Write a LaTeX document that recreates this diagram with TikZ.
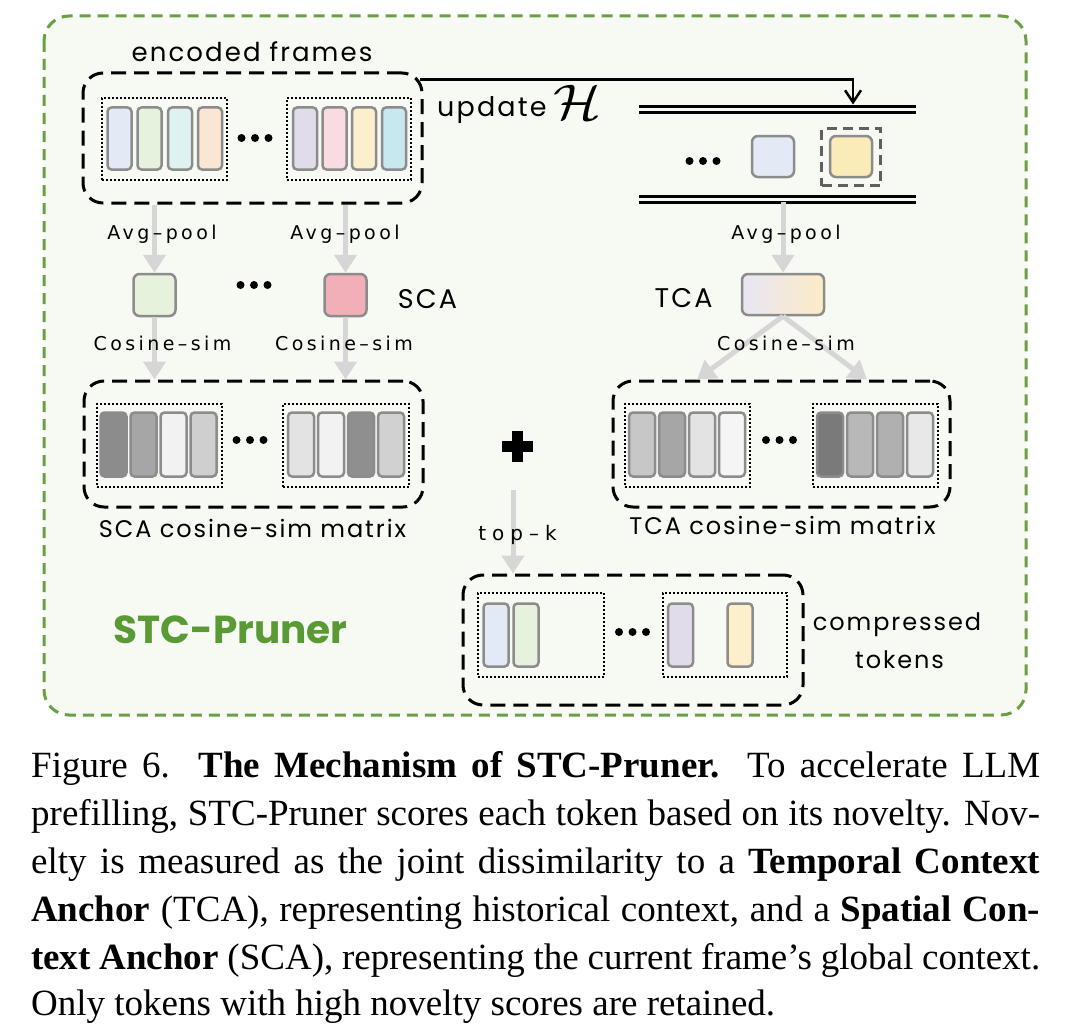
\documentclass[tikz,border=0pt]{standalone}
\usepackage{fontspec}
\usepackage{graphicx}
\usetikzlibrary{arrows.meta}
\newfontfamily\comic{Poppins}
\newfontfamily\comicsp[LetterSpace=8]{Poppins}
\newfontfamily\lsans[LetterSpace=18]{DejaVu Sans}
\newfontfamily\lsanswide[LetterSpace=30]{DejaVu Sans}
\newfontfamily\capf{Liberation Serif}
\definecolor{bggreen}{HTML}{F7FAF3}
\definecolor{framegreen}{HTML}{6A9F45}
\definecolor{txtgreen}{HTML}{5A9A35}
\definecolor{arrgray}{HTML}{D6D6D6}
\definecolor{tokborder}{HTML}{8C8C8C}
\definecolor{dgray}{HTML}{606060}
\definecolor{cblue}{HTML}{E3EAF6}
\definecolor{cgreen}{HTML}{E6F2DE}
\definecolor{ccyan}{HTML}{DDF2F1}
\definecolor{cpeach}{HTML}{FBE6D3}
\definecolor{clav}{HTML}{E0DCE9}
\definecolor{cpink}{HTML}{F8DCE2}
\definecolor{cyell}{HTML}{FBEFCC}
\definecolor{ccyan2}{HTML}{C7E8EE}
\definecolor{sqgreen}{HTML}{E6F2DC}
\definecolor{sqpink}{HTML}{F2AFB8}
\definecolor{hblue}{HTML}{E3EAF6}
\definecolor{hyell}{HTML}{FAEBB9}
\definecolor{tcaL}{HTML}{E8E6F6}
\definecolor{tcaR}{HTML}{FCEBC6}
\tikzset{
  tok/.style={draw=tokborder, line width=2.5pt, rounded corners=4pt, inner sep=0pt, minimum width=24pt, minimum height=62pt},
  sq/.style={draw=tokborder, line width=2.5pt, rounded corners=6pt, inner sep=0pt, minimum width=42pt, minimum height=42pt},
  dashbox/.style={draw=black, line width=3pt, dash pattern=on 15pt off 8pt, rounded corners=20pt, inner sep=0pt},
  dotbox/.style={draw=black, line width=2pt, dash pattern=on 2pt off 2pt, inner sep=0pt},
  garrow/.style={draw=arrgray, line width=5pt, -{Triangle[length=18pt,width=22pt]}},
  barrow/.style={draw=black, line width=2.5pt, -{Straight Barb[length=12pt,width=16pt]}},
  lab/.style={font=\lsans\fontsize{19}{19}\selectfont, inner sep=0pt, anchor=base},
  comictxt/.style={font=\comicsp\fontsize{27}{27}\selectfont, inner sep=0pt, anchor=base},
  capline/.style={font=\capf\fontsize{37}{37}\selectfont, inner sep=0pt, anchor=base west},
}
\newcommand\tridots[2]{\fill (#1-13.5,#2) circle (4pt) (#1,#2) circle (4pt) (#1+13.5,#2) circle (4pt);}
\begin{document}
\begin{tikzpicture}[x=1pt,y=-1pt]
\useasboundingbox[fill=white] (0,0) rectangle (1080,1025);
% frame
\draw[framegreen, line width=3pt, dash pattern=on 11pt off 7pt, rounded corners=25pt, fill=bggreen] (44,16) rectangle (1026,715);

% encoded frames box
\node[dashbox, minimum width=339pt, minimum height=130pt] (enc) at (252.5,138) {};
\node[dotbox, minimum width=125pt, minimum height=82pt] (encL) at (164.5,139) {};
\node[dotbox, minimum width=124pt, minimum height=82pt] (encR) at (349,139) {};
\node[tok, fill=cblue] (e1) at (119.5,138.5) {};
\node[tok, fill=cgreen] (e2) at (149.5,138.5) {};
\node[tok, fill=ccyan] (e3) at (180,138.5) {};
\node[tok, fill=cpeach] (e4) at (210,138.5) {};
\node[tok, fill=clav] (e5) at (305,138.5) {};
\node[tok, fill=cpink] (e6) at (334.5,138.5) {};
\node[tok, fill=cyell] (e7) at (364,138.5) {};
\node[tok, fill=ccyan2] (e8) at (394,138.5) {};
\tridots{255}{138}

% history
\draw[line width=3pt] (639,107) -- (916,107);
\draw[line width=3pt] (639,113) -- (916,113);
\draw[line width=3pt] (639,196) -- (916,196);
\draw[line width=3pt] (639,202) -- (916,202);
\node[inner sep=0pt, minimum width=277pt, minimum height=95pt] (hist) at (777.5,154.5) {};
\node[sq, fill=hblue, minimum width=42pt, minimum height=41pt] (hb) at (773,156.5) {};
\node[sq, fill=hyell, minimum width=42pt, minimum height=41pt] (hy) at (851,156.5) {};
\node[draw=dgray, line width=3pt, dash pattern=on 10pt off 6pt, inner sep=0pt, minimum width=59pt, minimum height=57pt] (hd) at (851,157) {};
\tridots{703}{161}

% anchors
\node[sq, fill=sqgreen] (sqA) at (154.5,295) {};
\node[sq, fill=sqpink] (sqB) at (345.5,295) {};
\tridots{254}{285}
\node[sq, minimum width=82pt, minimum height=41pt, left color=tcaL, right color=tcaR] (tca) at (783,294.5) {};

% SCA matrix
\node[dashbox, minimum width=339pt, minimum height=126pt] (smat) at (253.5,444) {};
\node[dotbox, minimum width=125pt, minimum height=83pt] (smL) at (159.5,445.5) {};
\node[dotbox, minimum width=126pt, minimum height=83pt] (smR) at (346,445.5) {};
\node[tok, fill=black!45, minimum width=26pt, minimum height=64pt] (s1) at (113.5,444.5) {};
\node[tok, fill=black!35, minimum width=26pt, minimum height=64pt] (s2) at (143.5,444.5) {};
\node[tok, fill=black!5, minimum width=26pt, minimum height=64pt] (s3) at (173.5,444.5) {};
\node[tok, fill=black!19, minimum width=26pt, minimum height=64pt] (s4) at (203.5,444.5) {};
\node[tok, fill=black!11, minimum width=26pt, minimum height=64pt] (s5) at (301,444.5) {};
\node[tok, fill=black!5, minimum width=26pt, minimum height=64pt] (s6) at (331,444.5) {};
\node[tok, fill=black!44, minimum width=26pt, minimum height=64pt] (s7) at (361,444.5) {};
\node[tok, fill=black!18, minimum width=26pt, minimum height=64pt] (s8) at (391,444.5) {};
\tridots{250}{440}

% TCA matrix
\node[dashbox, minimum width=337pt, minimum height=126pt] (tmat) at (781.5,444) {};
\node[dotbox, minimum width=125pt, minimum height=83pt] (tmL) at (687.5,445.5) {};
\node[dotbox, minimum width=125pt, minimum height=83pt] (tmR) at (875.5,445.5) {};
\node[tok, fill=black!22, minimum width=26pt, minimum height=64pt] (t1) at (642,444.5) {};
\node[tok, fill=black!35, minimum width=26pt, minimum height=64pt] (t2) at (672,444.5) {};
\node[tok, fill=black!11, minimum width=26pt, minimum height=64pt] (t3) at (702,444.5) {};
\node[tok, fill=black!4, minimum width=26pt, minimum height=64pt] (t4) at (732,444.5) {};
\node[tok, fill=black!52, minimum width=26pt, minimum height=64pt] (t5) at (830,444.5) {};
\node[tok, fill=black!28, minimum width=26pt, minimum height=64pt] (t6) at (860,444.5) {};
\node[tok, fill=black!31, minimum width=26pt, minimum height=64pt] (t7) at (890,444.5) {};
\node[tok, fill=black!9, minimum width=26pt, minimum height=64pt] (t8) at (920,444.5) {};
\tridots{779.5}{440}

% plus
\node[inner sep=0pt, minimum size=31pt] (plus) at (517,446) {};
\fill (501.5,440.5) rectangle (532.5,451.5);
\fill (511.5,430.5) rectangle (522.5,461.5);

% compressed tokens
\node[dashbox, minimum width=340pt, minimum height=130pt] (comp) at (633,640) {};
\node[dotbox, minimum width=126pt, minimum height=84pt] (cL) at (541,635) {};
\node[dotbox, minimum width=124pt, minimum height=84pt] (cR) at (725,635) {};
\node[tok, fill=cblue, minimum width=25pt, minimum height=63pt] (k1) at (496,635) {};
\node[tok, fill=cgreen, minimum width=25pt, minimum height=63pt] (k2) at (526,635) {};
\node[tok, fill=clav, minimum width=25pt, minimum height=63pt] (k3) at (680.5,635) {};
\node[tok, fill=cyell, minimum width=25pt, minimum height=63pt] (k4) at (740,635) {};
\tridots{632.5}{632}

% gray arrows
\draw[garrow] (enc.south -| sqA) -- (sqA.north);
\draw[garrow] (enc.south -| sqB) -- (sqB.north);
\draw[garrow] (hist.south -| tca) -- (tca.north);
\draw[garrow] (sqA.south) -- (sqA.south |- smat.north);
\draw[garrow] (sqB.south) -- (sqB.south |- smat.north);
\draw[garrow] (tca.south) -- ([xshift=-84.5pt]tmat.north);
\draw[garrow] (tca.south) -- ([xshift=85.5pt]tmat.north);
\coordinate (tk0) at (513,490);
\draw[garrow] (tk0) -- (tk0 |- comp.north);

% black arrow
\coordinate (hin) at (853,104.5);
\draw[barrow] ([xshift=-4pt,yshift=-8pt]enc.north east) -| (hin);

% labels
\node[comictxt, font=\comicsp\fontsize{26}{26}\selectfont] (lenc) at (252,62) {encoded frames};
\node[comictxt, anchor=base west] (lupd) at (437,117) {update};
\node[inner sep=0pt, anchor=base west] (lH) at (553,119) {\scalebox{5.6}[5]{$\mathcal{H}$}};
\node[lab] (ap1) at (162,239) {Avg–pool};
\node[lab] (ap2) at (345,239) {Avg–pool};
\node[lab] (ap3) at (786,239) {Avg–pool};
\node[lab] (cs1) at (162.5,350) {Cosine–sim};
\node[lab] (cs2) at (344,350) {Cosine–sim};
\node[lab] (cs3) at (786,350) {Cosine–sim};
\node[comictxt] (lsca) at (427.5,308) {SCA};
\node[comictxt] (ltca) at (683.5,307) {TCA};
\node[comictxt, font=\comicsp\fontsize{24}{24}\selectfont] (lsm) at (252.5,537) {SCA cosine-sim matrix};
\node[comictxt, font=\comicsp\fontsize{24}{24}\selectfont] (ltm) at (782.5,534) {TCA cosine-sim matrix};
\node[lab, font=\lsanswide\fontsize{20}{20}\selectfont] (ltk) at (517.5,540) {top–k};
\node[comictxt, font=\comicsp\fontsize{24}{24}\selectfont] (lcomp) at (897,630) {compressed};
\node[comictxt, font=\comicsp\fontsize{24}{24}\selectfont] (ltok) at (899.5,668) {tokens};
\node[inner sep=0pt, anchor=base, font=\comic\bfseries\fontsize{39}{39}\selectfont, text=txtgreen] (lstc) at (230.5,643) {STC-Pruner};

% caption
\node[capline] (c1) at (31,777) {\makebox[1009pt][s]{Figure 6.\ \ \textbf{The Mechanism of STC-Pruner.} To accelerate LLM}};
\node[capline] (c2) at (31,825) {\makebox[1009pt][s]{prefilling, STC-Pruner scores each token based on its novelty. Nov-}};
\node[capline] (c3) at (31,873) {\makebox[1009pt][s]{elty is measured as the joint dissimilarity to a \textbf{Temporal Context}}};
\node[capline] (c4) at (31,921) {\makebox[1009pt][s]{\textbf{Anchor} (TCA), representing historical context, and a \textbf{Spatial Con-}}};
\node[capline] (c5) at (31,969) {\makebox[1009pt][s]{\textbf{text Anchor} (SCA), representing the current frame’s global context.}};
\node[capline] (c6) at (31,1015) {Only tokens with high novelty scores are retained.};
\end{tikzpicture}
\end{document}
